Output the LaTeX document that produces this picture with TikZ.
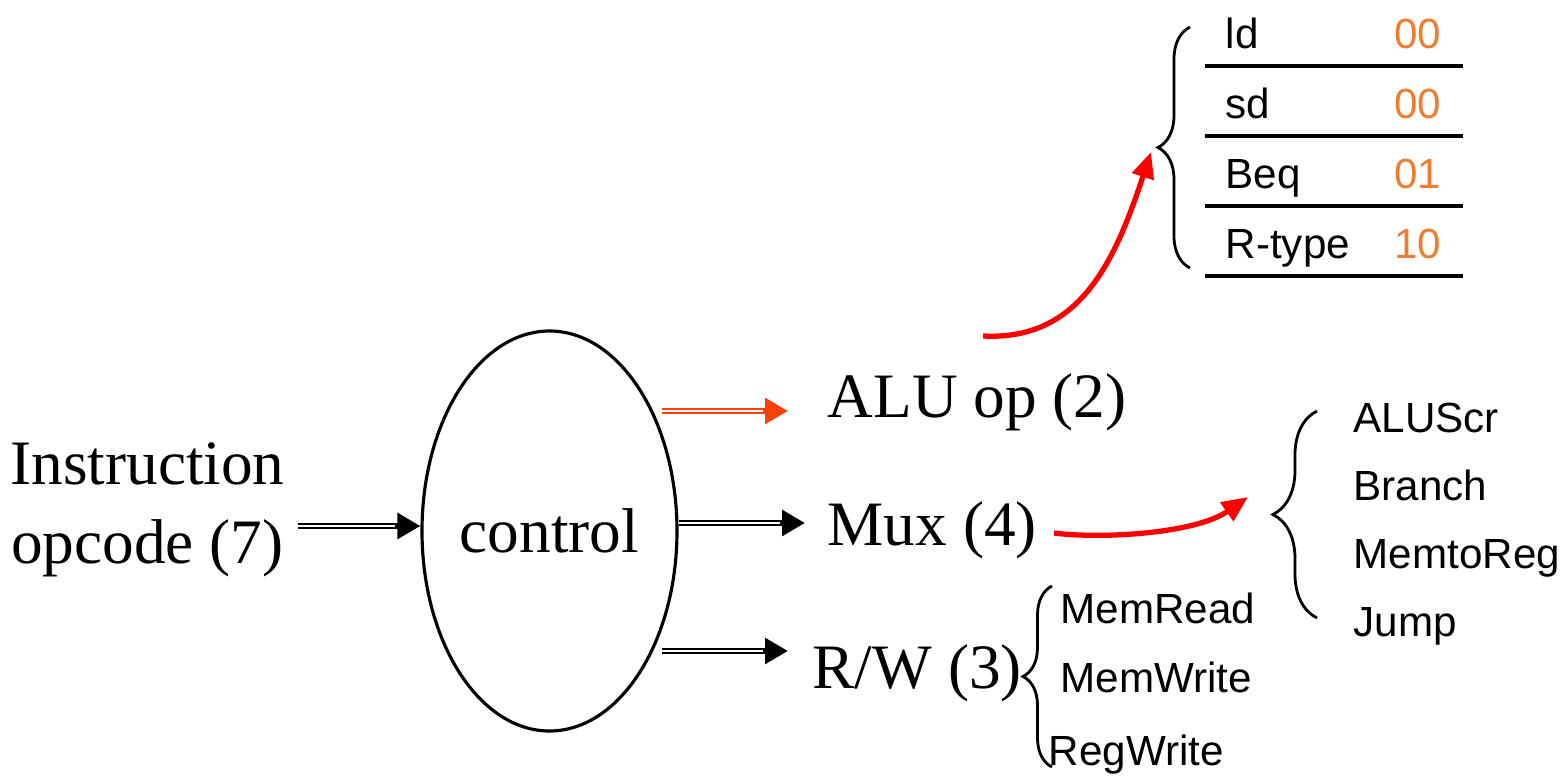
\documentclass[tikz,border=0pt]{standalone}
\usepackage{fontspec}
\setmainfont{Liberation Serif}
\setsansfont{Liberation Sans}
\usetikzlibrary{arrows.meta, decorations.pathreplacing, shapes.geometric}
\definecolor{aluorange}{RGB}{250,64,10}
\definecolor{codeorange}{RGB}{237,125,49}

\begin{document}
\begin{tikzpicture}[
        big/.style={font=\fontsize{18}{22.2}\selectfont, inner sep=0pt},
        small/.style={font=\sffamily\fontsize{12}{14}\selectfont, inner sep=0pt},
        dblarrow/.style={-{Triangle[length=0.23cm, width=0.25cm]}, line width=1.8pt,
            postaction={draw=white, line width=0.55pt, -, shorten >=0.25cm}},
        curvearrow/.style={red, line width=1.5pt, -{Triangle[length=0.26cm, width=0.22cm]}},
        curly/.style={decorate, decoration={brace, amplitude=#1}, line width=0.8pt}
    ]
        \useasboundingbox (0,0) rectangle (15.66,7.81);

        % Control unit
        \node[big, ellipse, draw, line width=0.9pt, minimum width=2.55cm, minimum height=4cm] (ctrl) at (5.495,2.50) {control};

        % Input
        \node[big, align=center, anchor=base] (instr) at (1.475,2.18) {Instruction\\opcode (7)};
        \coordinate (inbeg) at (2.98,2.55);
        \draw[dblarrow] (inbeg) -- (inbeg -| ctrl.west);

        % Outputs
        \node[big, anchor=base west] (aluop) at (8.27,3.64) {ALU op (2)};
        \node[big, anchor=base west] (mux)   at (8.27,2.36) {Mux (4)};
        \node[big, anchor=base west] (rw)    at (8.12,0.93) {R/W (3)};

        \coordinate (alubeg) at (6.62,3.70);
        \coordinate (aluend) at (7.88,3.70);
        \coordinate (muxend) at (8.05,2.58);
        \coordinate (rwbeg)  at (6.62,1.30);
        \coordinate (rwend)  at (7.88,1.30);
        \draw[dblarrow, aluorange] (alubeg) -- (aluend);
        \draw[dblarrow] (muxend -| ctrl.east) -- (muxend);
        \draw[dblarrow] (rwbeg) -- (rwend);

        % ALU op table
        \draw[curly=0.32cm] (11.90,5.13) -- (11.90,7.54);
        \foreach \opname/\bits [count=\i] in {ld/00, sd/00, Beq/01, R-type/10} {
            \node[small, anchor=base west] (op\i) at (12.25,{7.33-0.70*(\i-1)}) {\opname};
            \node[small, anchor=base east, text=codeorange] (bits\i) at (14.42,{7.33-0.70*(\i-1)}) {\bits};
            \draw[line width=0.9pt] (12.05,{7.15-0.70*(\i-1)}) -- (14.63,{7.15-0.70*(\i-1)});
        }
        \coordinate (alufrom) at (9.83,4.45);
        \coordinate (aluto)   at (11.51,6.29);
        \draw[curvearrow] (alufrom) .. controls (10.8,4.40) and (11.15,5.2) .. (aluto);

        % Mux signals
        \draw[curly=0.44cm] (13.17,1.63) -- (13.17,3.70);
        \foreach \sig [count=\i] in {ALUScr, Branch, MemtoReg, Jump}
            \node[small, anchor=base west] (mux\i) at (13.53,{3.49-0.68*(\i-1)}) {\sig};
        \coordinate (muxfrom) at (10.54,2.48);
        \coordinate (muxto)   at (12.48,2.84);
        \draw[curvearrow] (muxfrom) .. controls (11.0,2.42) and (11.95,2.47) .. (muxto);

        % R/W signals
        \draw[curly=0.29cm] (10.52,0.14) -- (10.52,1.95);
        \node[small, anchor=base west] (memrd) at (10.60,1.58) {MemRead};
        \node[small, anchor=base west] (memwr) at (10.60,0.89) {MemWrite};
        \node[small, anchor=base west] (regwr) at (10.48,0.16) {RegWrite};
    \end{tikzpicture}
\end{document}
